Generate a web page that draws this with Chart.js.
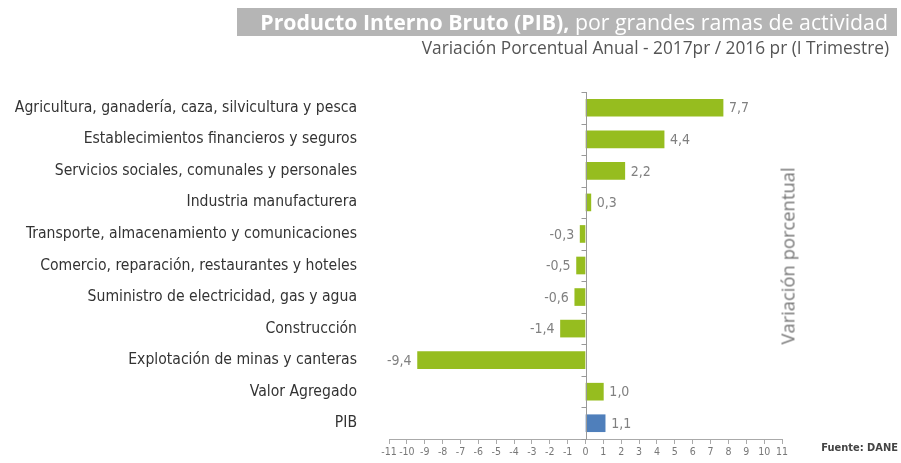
<!DOCTYPE html>
<html>
<head>
<meta charset="utf-8">
<script src="https://cdn.jsdelivr.net/npm/chart.js@4.4.0/dist/chart.umd.min.js"></script>
<style>
  body { margin: 0; background: #fff; }
  #wrap { position: relative; width: 901px; height: 463px; overflow: hidden; }
  #chart { position: absolute; left: 0; top: 0; }
  .title-band {
    position: absolute; left: 237px; top: 8px; width: 660px; height: 28px;
    background: #b5b5b5; color: #fff; font-family: "Open Sans", sans-serif;
    font-size: 21.3px; line-height: 28px; text-align: right; box-sizing: border-box;
    padding-right: 9px; white-space: nowrap;
  }
  .title-band b { font-weight: 700; }
  .subtitle {
    position: absolute; right: 12px; top: 36px; color: #555;
    font-family: "Open Sans", sans-serif; font-size: 17.3px; white-space: nowrap;
  }
  .side {
    position: absolute; left: 787px; top: 256px; color: #777;
    font-family: "Open Sans", sans-serif; font-size: 18.4px; white-space: nowrap;
    transform: translate(-50%, -50%) rotate(-90deg);
  }
  .source {
    position: absolute; right: 3px; top: 441px; color: #444;
    font-family: "Liberation Sans Narrow", "DejaVu Sans Condensed", sans-serif;
    font-size: 11px; font-weight: bold; white-space: nowrap;
  }
</style>
</head>
<body>
<div id="wrap">
  <canvas id="chart" width="901" height="463"></canvas>
  <div class="title-band"><b>Producto Interno Bruto (PIB),</b> por grandes ramas de actividad</div>
  <div class="subtitle">Variación Porcentual Anual - 2017pr / 2016 pr (I Trimestre)</div>
  <div class="side">Variación porcentual</div>
  <div class="source">Fuente: DANE</div>
</div>
<script>
// datos
var ramas = [
  "Agricultura, ganadería, caza, silvicultura y pesca",
  "Establecimientos financieros y seguros",
  "Servicios sociales, comunales y personales",
  "Industria manufacturera",
  "Transporte, almacenamiento y comunicaciones",
  "Comercio, reparación, restaurantes y hoteles",
  "Suministro de electricidad, gas y agua",
  "Construcción",
  "Explotación de minas y canteras",
  "Valor Agregado",
  "PIB"
];
var variacion = [7.7, 4.4, 2.2, 0.3, -0.3, -0.5, -0.6, -1.4, -9.4, 1.0, 1.1];
var coloresBarras = ['#96bd1f', '#96bd1f', '#96bd1f', '#96bd1f', '#96bd1f', '#96bd1f',
                     '#96bd1f', '#96bd1f', '#96bd1f', '#96bd1f', '#4f7fbb'];
var ejeMin = -11, ejeMax = 11;

var fuenteAngosta = '"Liberation Sans Narrow", "DejaVu Sans Condensed", sans-serif';

// linea del cero con marcas entre categorias
var lineaCero = {
  id: 'lineaCero',
  afterDatasetsDraw: function(chart) {
    var ctx = chart.ctx, xs = chart.scales.x, ys = chart.scales.y;
    var x0 = Math.round(xs.getPixelForValue(0)) + 0.5;
    ctx.save();
    ctx.strokeStyle = '#999';
    ctx.lineWidth = 1;
    ctx.beginPath();
    ctx.moveTo(x0, chart.chartArea.top);
    ctx.lineTo(x0, chart.chartArea.bottom);
    var paso = (ys.getPixelForValue(1) - ys.getPixelForValue(0));
    for (var i = 0; i <= ramas.length; i++) {
      var yy = Math.round(ys.getPixelForValue(0) - paso / 2 + i * paso) + 0.5;
      ctx.moveTo(x0 - 5, yy);
      ctx.lineTo(x0, yy);
    }
    ctx.stroke();
    ctx.restore();
  }
};

// etiquetas de valor
var etiquetas = {
  id: 'etiquetas',
  afterDatasetsDraw: function(chart) {
    var ctx = chart.ctx;
    var meta = chart.getDatasetMeta(0);
    ctx.save();
    ctx.font = '14px ' + fuenteAngosta;
    ctx.fillStyle = '#808080';
    ctx.textBaseline = 'middle';
    meta.data.forEach(function(bar, i) {
      var v = variacion[i];
      var txt = v.toFixed(1).replace('.', ',');
      if (v >= 0) {
        ctx.textAlign = 'left';
        ctx.fillText(txt, bar.x + 6, bar.y + 1);
      } else {
        ctx.textAlign = 'right';
        ctx.fillText(txt, bar.x - 6, bar.y + 1);
      }
    });
    ctx.restore();
  }
};

new Chart(document.getElementById('chart'), {
  type: 'bar',
  data: {
    labels: ramas,
    datasets: [{
      data: variacion,
      backgroundColor: coloresBarras,
      barThickness: 17,
      borderWidth: 0
    }]
  },
  options: {
    indexAxis: 'y',
    responsive: false,
    animation: false,
    layout: { padding: { top: 92, right: 119, left: 0, bottom: 0 } },
    plugins: { legend: { display: false }, tooltip: { enabled: false } },
    scales: {
      x: {
        min: ejeMin, max: ejeMax,
        ticks: {
          stepSize: 1, autoSkip: false, maxRotation: 0,
          color: '#777', padding: 2,
          font: { family: fuenteAngosta, size: 10.5 }
        },
        grid: { drawOnChartArea: false, drawTicks: true, tickLength: 5, color: '#aaa' },
        border: { display: true, color: '#aaa' },
        afterFit: function(s) { s.height = 24; }
      },
      y: {
        ticks: {
          color: '#333', padding: 0,
          font: { family: fuenteAngosta, size: 15.6 }
        },
        // marcas invisibles solo para separar las etiquetas del area
        grid: { display: true, drawOnChartArea: false, drawTicks: true, tickLength: 32, color: 'rgba(0,0,0,0)' },
        border: { display: false },
        afterFit: function(s) { s.width = 389; }
      }
    }
  },
  plugins: [lineaCero, etiquetas]
});
</script>
</body>
</html>
